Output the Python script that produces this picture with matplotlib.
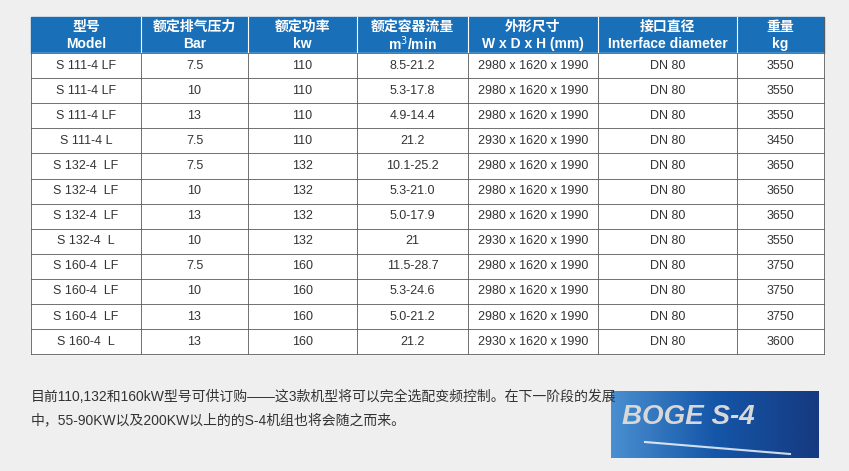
import matplotlib.pyplot as plt
from matplotlib.patches import Rectangle
import numpy as np

plt.rcParams['font.family'] = ['Liberation Sans', 'Noto Sans CJK SC', 'DejaVu Sans']

header_cn = ['型号', '额定排气压力', '额定功率', '额定容器流量', '外形尺寸', '接口直径', '重量']
header_en = ['Model', 'Bar', 'kw', 'm$^3$/min', 'W x D x H (mm)', 'Interface diameter', 'kg']
models = ['S 111-4 LF', 'S 111-4 LF', 'S 111-4 LF', 'S 111-4 L', 'S 132-4  LF', 'S 132-4  LF',
          'S 132-4  LF', 'S 132-4  L', 'S 160-4  LF', 'S 160-4  LF', 'S 160-4  LF', 'S 160-4  L']
pressure = ['7.5', '10', '13', '7.5', '7.5', '10', '13', '10', '7.5', '10', '13', '13']
power = ['110', '110', '110', '110', '132', '132', '132', '132', '160', '160', '160', '160']
flow = ['8.5-21.2', '5.3-17.8', '4.9-14.4', '21.2', '10.1-25.2', '5.3-21.0', '5.0-17.9', '21',
        '11.5-28.7', '5.3-24.6', '5.0-21.2', '21.2']
dims = ['2980 x 1620 x 1990'] * 3 + ['2930 x 1620 x 1990'] + ['2980 x 1620 x 1990'] * 3 + \
       ['2930 x 1620 x 1990'] + ['2980 x 1620 x 1990'] * 3 + ['2930 x 1620 x 1990']
iface = ['DN 80'] * 12
weight = ['3550', '3550', '3550', '3450', '3650', '3650', '3650', '3550', '3750', '3750', '3750', '3600']
note = ['目前110,132和160kW型号可供订购——这3款机型将可以完全选配变频控制。在下一阶段的发展',
        '中，55-90KW以及200KW以上的的S-4机组也将会随之而来。']

col_edges = [31, 141, 248, 357, 468, 598, 737, 824]
head_top, head_bot, row_h = 17, 53, 25.1

fig = plt.figure(figsize=(8.49, 4.71), dpi=100, facecolor='#efefef')
ax = fig.add_axes([0, 0, 1, 1])
ax.set_xlim(0, 849)
ax.set_ylim(471, 0)
ax.axis('off')

ax.add_patch(Rectangle((col_edges[0], head_top), col_edges[-1] - col_edges[0], head_bot - head_top,
                       color='#1a70b8'))
n = len(models)
ax.add_patch(Rectangle((col_edges[0], head_bot), col_edges[-1] - col_edges[0], n * row_h,
                       color='white'))
bottom = head_bot + n * row_h
for x in col_edges:
    ax.plot([x, x], [head_top, bottom], color='#5a5a5a', lw=0.6)
for x in col_edges[1:-1]:
    ax.plot([x, x], [head_top, head_bot], color='white', lw=0.8)
for i in range(n + 1):
    y = head_bot + i * row_h
    ax.plot([col_edges[0], col_edges[-1]], [y, y], color='#5a5a5a', lw=0.6)

centers = [(a + b) / 2 for a, b in zip(col_edges[:-1], col_edges[1:])]
for c, cn, en in zip(centers, header_cn, header_en):
    ax.text(c, 27, cn, ha='center', va='center', color='white', fontsize=10, fontweight='bold')
    ax.text(c, 44, en, ha='center', va='center', color='white', fontsize=10, fontweight='bold')

cols = [models, pressure, power, flow, dims, iface, weight]
for j, col in enumerate(cols):
    for i, v in enumerate(col):
        ax.text(centers[j], head_bot + (i + 0.5) * row_h, v, ha='center', va='center',
                color='#333333', fontsize=9)

ax.text(31, 397, note[0], ha='left', va='center', fontsize=10, color='#333333')
ax.text(31, 420, note[1], ha='left', va='center', fontsize=10, color='#333333')

# logo block
grad = np.linspace(0, 1, 200)[None, :]
ax.imshow(grad, extent=(611, 819, 458, 391), cmap=plt.matplotlib.colors.LinearSegmentedColormap.from_list(
    'b', ['#4a8fd0', '#1556a8', '#153a80']), aspect='auto', zorder=1)
ax.text(688, 417, 'BOGE S-4', ha='center', va='center', fontsize=20, fontweight='bold',
        style='italic', color='#d8d8d8', zorder=2)
ax.plot([645, 790], [442, 454], color='white', lw=1.5, alpha=0.8, zorder=2)
ax.set_xlim(0, 849)
ax.set_ylim(471, 0)

fig.savefig('out.png', dpi=100, facecolor=fig.get_facecolor())
